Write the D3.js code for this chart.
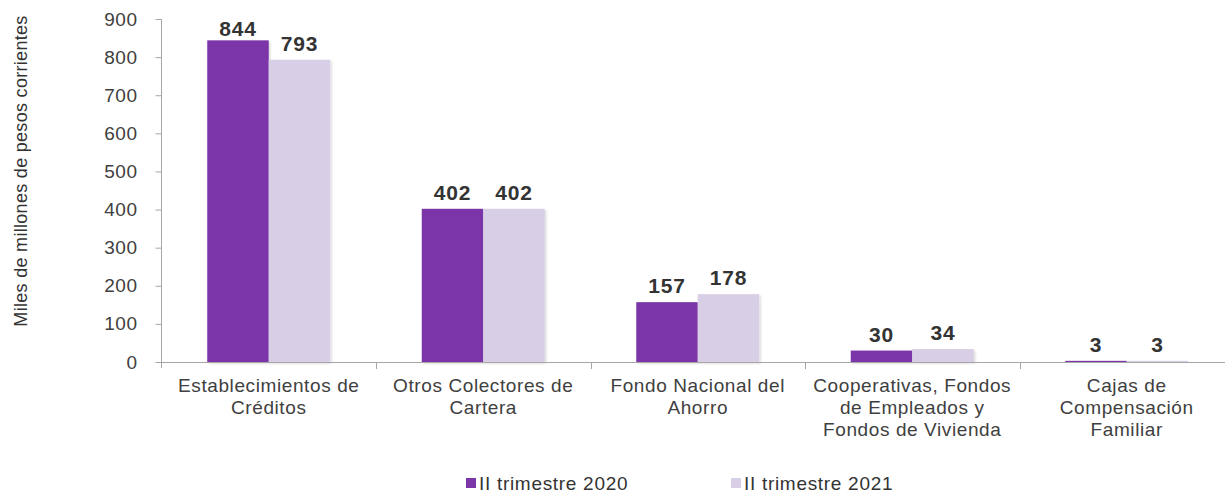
<!DOCTYPE html>
<html>
<head>
<meta charset="utf-8">
<script src="https://cdn.jsdelivr.net/npm/d3@7"></script>
<style>
  html, body { margin: 0; padding: 0; background: #ffffff; }
  svg { display: block; font-family: "Liberation Sans", Arial, sans-serif; }
</style>
</head>
<body>
<svg id="chart" width="1225" height="493"></svg>
<script>
const categories = [
  ["Establecimientos de", "Créditos"],
  ["Otros Colectores de", "Cartera"],
  ["Fondo Nacional del", "Ahorro"],
  ["Cooperativas, Fondos", "de Empleados y", "Fondos de Vivienda"],
  ["Cajas de", "Compensación", "Familiar"]
];
const seriesNames = ["II trimestre 2020", "II trimestre 2021"];
const values2020 = [844, 402, 157, 30, 3];
const values2021 = [793, 402, 178, 34, 3];
const yTicks = [0, 100, 200, 300, 400, 500, 600, 700, 800, 900];
const yTitle = "Miles de millones de pesos corrientes";
const colors = ["#7B36A8", "#D8CEE6"];

const svg = d3.select("#chart");
const catKeys = categories.map(c => c.join(" "));
const seriesValues = [values2020, values2021];

const x = d3.scaleBand().domain(catKeys).range([161.5, 1234]).paddingInner(0).paddingOuter(0);
const x1 = d3.scaleBand().domain(seriesNames).range([0, x.bandwidth()]).paddingInner(0).paddingOuter(0.744);
const y = d3.scaleLinear().domain([0, 900]).range([362, 19]);

const defs = svg.append("defs");
const f = defs.append("filter").attr("id", "sh").attr("x", "-10%").attr("y", "-10%").attr("width", "130%").attr("height", "130%");
f.append("feDropShadow").attr("dx", 1.5).attr("dy", 1.5).attr("stdDeviation", 1.2).attr("flood-color", "#000").attr("flood-opacity", 0.15);

// Bars
const groups = svg.append("g").selectAll("g").data(catKeys).join("g")
  .attr("transform", d => `translate(${x(d)},0)`);
groups.selectAll("rect")
  .data((d, i) => seriesNames.map((s, j) => ({ s, v: seriesValues[j][i], j })))
  .join("rect")
  .attr("x", d => x1(d.s))
  .attr("width", x1.bandwidth())
  .attr("y", d => y(d.v))
  .attr("height", d => y(0) - y(d.v))
  .attr("fill", d => colors[d.j])
  .attr("filter", "url(#sh)");

// Value labels
groups.selectAll("text.val")
  .data((d, i) => seriesNames.map((s, j) => ({ s, v: seriesValues[j][i], j })))
  .join("text")
  .attr("class", "val")
  .attr("x", d => x1(d.s) + x1.bandwidth() / 2)
  .attr("y", d => Math.max(y(d.v) - 9, 36))
  .attr("text-anchor", "middle")
  .attr("font-size", 21)
  .attr("font-weight", "bold")
  .attr("letter-spacing", 0.8)
  .attr("fill", "#333333")
  .text(d => d.v);

// Y axis
const yAxis = d3.axisLeft(y).tickValues(yTicks).tickSize(6).tickPadding(18);
const gy = svg.append("g").attr("transform", "translate(161.5,0)").call(yAxis);
gy.select(".domain").attr("stroke", "#a6a6a6").attr("d", "M0,19V368");
gy.selectAll(".tick line").attr("stroke", "#a6a6a6");
gy.selectAll(".tick text").attr("font-size", 19).attr("letter-spacing", 0.5).attr("fill", "#404040")
  .attr("font-family", "'Liberation Sans', Arial, sans-serif");

// X axis line and ticks at category boundaries
svg.append("line").attr("x1", 161.5).attr("x2", 1225).attr("y1", y(0) + 0.5).attr("y2", y(0) + 0.5)
  .attr("stroke", "#a6a6a6");
svg.append("g").selectAll("line").data(catKeys.slice(1)).join("line")
  .attr("x1", d => Math.round(x(d)) + 0.5).attr("x2", d => Math.round(x(d)) + 0.5)
  .attr("y1", y(0)).attr("y2", y(0) + 7)
  .attr("stroke", "#a6a6a6");

// Category labels
const lab = svg.append("g").selectAll("text").data(categories).join("text")
  .attr("text-anchor", "middle")
  .attr("font-size", 19)
  .attr("letter-spacing", 0.6)
  .attr("fill", "#404040");
lab.each(function (d, i) {
  const t = d3.select(this);
  d.forEach((line, k) => {
    t.append("tspan")
      .attr("x", x(catKeys[i]) + x.bandwidth() / 2)
      .attr("y", 392 + k * 22)
      .text(line);
  });
});

// Y title
svg.append("text")
  .attr("transform", "translate(27,171) rotate(-90)")
  .attr("text-anchor", "middle")
  .attr("font-size", 18)
  .attr("letter-spacing", 0.3)
  .attr("fill", "#333333")
  .text(yTitle);

// Legend
const legendX = [466, 731];
const leg = svg.append("g").selectAll("g").data(seriesNames).join("g")
  .attr("transform", (d, i) => `translate(${legendX[i]},0)`);
leg.append("rect").attr("x", 0).attr("y", 478).attr("width", 10).attr("height", 10)
  .attr("fill", (d, i) => colors[i]);
leg.append("text").attr("x", 13).attr("y", 490)
  .attr("font-size", 19).attr("letter-spacing", 0.7).attr("fill", "#333333")
  .text(d => d);
</script>
</body>
</html>
